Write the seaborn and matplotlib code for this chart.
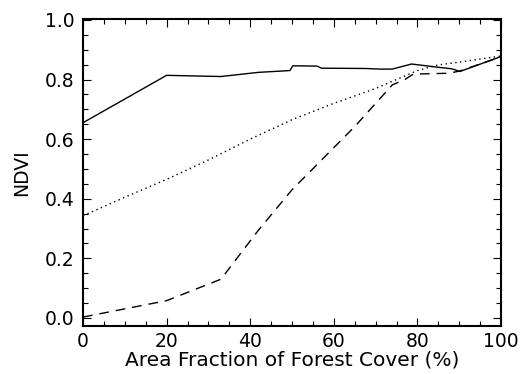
import matplotlib
matplotlib.use("Agg")
import matplotlib.pyplot as plt
import seaborn as sns
import pandas as pd
from matplotlib.ticker import MultipleLocator

# Data
solid_x = [0, 20, 33, 42, 49.5, 50.2, 56, 57, 67.5, 71, 74, 78.6, 85, 88.2, 90.2, 100]
solid_y = [0.655, 0.814, 0.810, 0.824, 0.830, 0.846, 0.845, 0.838, 0.837, 0.835, 0.835, 0.852, 0.841, 0.836, 0.827, 0.877]

dotted_x = [0, 10, 20, 30, 40, 50, 60, 70, 80, 85, 90, 100]
dotted_y = [0.343, 0.405, 0.465, 0.53, 0.60, 0.665, 0.72, 0.77, 0.83, 0.849, 0.858, 0.879]

dashed_x = [0, 20, 33, 42, 50, 65, 74, 77, 79, 87.5, 90, 100]
dashed_y = [0.003, 0.058, 0.13, 0.295, 0.43, 0.642, 0.782, 0.80, 0.818, 0.821, 0.828, 0.876]

x_ticks = [0, 20, 40, 60, 80, 100]
y_ticks = [0.0, 0.2, 0.4, 0.6, 0.8, 1.0]
x_label = "Area Fraction of Forest Cover (%)"
y_label = "NDVI"

sns.set_style("ticks")
plt.rcParams['font.family'] = ['DejaVu Sans']

fig = plt.figure(figsize=(5.21, 3.74), dpi=100)
ax = fig.add_axes([83/521, 1-326/374, (501-83)/521, (326-19)/374])

sns.lineplot(x=solid_x, y=solid_y, ax=ax, color="black", linewidth=1.0, linestyle="-")
sns.lineplot(x=dotted_x, y=dotted_y, ax=ax, color="black", linewidth=1.0,
             linestyle=(0, (1, 2.5)))
sns.lineplot(x=dashed_x, y=dashed_y, ax=ax, color="black", linewidth=1.0,
             linestyle=(0, (7, 5)))

ax.set_xlim(0, 100)
ax.set_ylim(-0.027, 1.003)
ax.set_xticks(x_ticks)
ax.set_xticklabels([str(t) for t in x_ticks])
ax.set_yticks(y_ticks)
ax.set_yticklabels([f"{t:.1f}" for t in y_ticks])
ax.xaxis.set_minor_locator(MultipleLocator(5))
ax.yaxis.set_minor_locator(MultipleLocator(0.05))
ax.tick_params(which="both", direction="in", top=True, right=True, color="black",
               width=0.8, labelsize=13.5, labelcolor="black")
ax.tick_params(which="major", length=6)
ax.tick_params(axis="y", which="major", pad=6)
ax.tick_params(axis="x", which="major", pad=4)
ax.tick_params(which="minor", length=3.5)
for s in ax.spines.values():
    s.set_visible(True)
    s.set_linewidth(1.5)
    s.set_color("black")

ax.set_xlabel(x_label, fontsize=14.5, color="black", labelpad=0)
ax.set_ylabel(y_label, fontsize=13.5, color="black", labelpad=10)

fig.savefig("out.png", dpi=100)
